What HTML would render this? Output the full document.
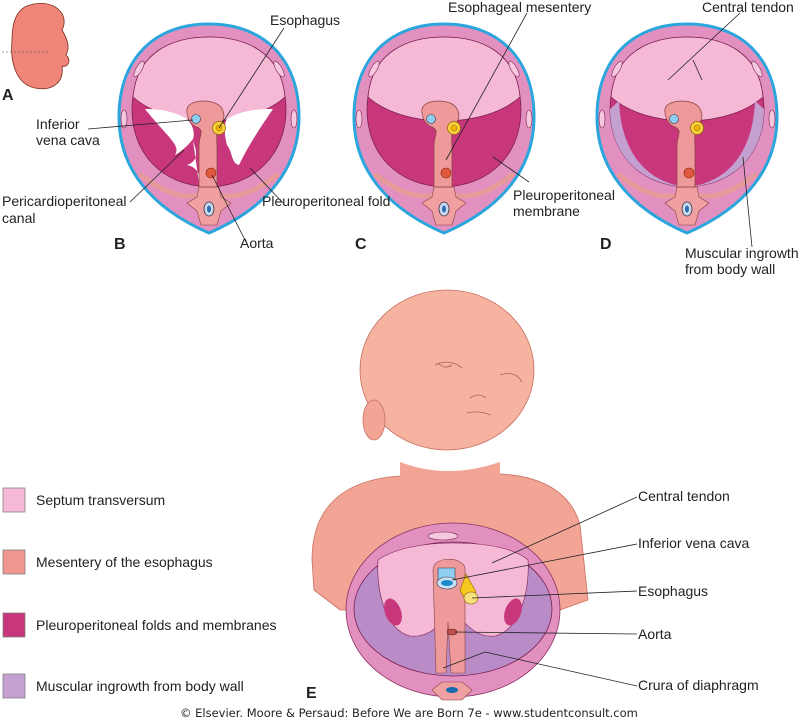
<!DOCTYPE html>
<html><head><meta charset="utf-8"><style>
html,body{margin:0;padding:0;background:#fff;}
svg{display:block;font-family:"Liberation Sans",Arial,sans-serif;}
text{font-size:14px;fill:#222;}
.b{font-weight:bold;font-size:16px;}
</style></head><body>
<svg width="800" height="720" viewBox="0 0 800 720">
<defs>
<g id="sec">
  <path d="M0,-107 C55,-107 90,-72 90,-14 C90,36 60,76 0,102 C-60,76 -90,36 -90,-14 C-90,-72 -55,-107 0,-107Z" fill="#e290c0" stroke="#2aa6dd" stroke-width="3"/>
  <path d="M0,-94 C47,-94 77,-62 77,-22 C77,22 48,54 0,56 C-48,54 -77,22 -77,-22 C-77,-62 -47,-94 0,-94Z" fill="#c8377c" stroke="#7a2050" stroke-width="0.8"/>
  <path d="M-76,-34 C-72,-80 -35,-94 0,-94 C35,-94 72,-80 76,-34 C40,-2 -40,-2 -76,-34Z" fill="#f5b8d5" stroke="#7a2050" stroke-width="0.8"/>
  <ellipse cx="-85" cy="-12" rx="3" ry="9" fill="#f5c8dd" stroke="#7a2050" stroke-width="0.6"/>
  <ellipse cx="85" cy="-12" rx="3" ry="9" fill="#f5c8dd" stroke="#7a2050" stroke-width="0.6"/>
  <ellipse cx="-70" cy="-62" rx="3" ry="9" fill="#f5c8dd" stroke="#7a2050" stroke-width="0.6" transform="rotate(30 -70 -62)"/>
  <ellipse cx="70" cy="-62" rx="3" ry="9" fill="#f5c8dd" stroke="#7a2050" stroke-width="0.6" transform="rotate(-30 70 -62)"/>
  <path d="M-68,44 Q-35,70 -10,64 L10,64 Q35,70 68,44" fill="none" stroke="#e89a9a" stroke-width="5" stroke-linecap="round"/>
  <path d="M-10,56 L10,56 L12,66 L22,72 L12,80 L8,94 L-8,94 L-12,80 L-22,72 L-12,66Z" fill="#f0a0a0" stroke="#8a4040" stroke-width="0.6"/>
  <ellipse cx="0" cy="78" rx="5" ry="7" fill="#ccd8ee" stroke="#334" stroke-width="0.8"/>
  <ellipse cx="0" cy="78" rx="2" ry="3.5" fill="#2a6fb0"/>
</g>
<g id="mes">
  <path d="M-22,-18 C-24,-30 -6,-32 6,-28 C14,-25 18,-15 12,-8 C6,-2 8,8 8,18 L8,56 L-10,56 L-10,15 C-10,4 -4,0 -12,-4 C-18,-6 -21,-12 -22,-18Z" fill="#ef9a9a" stroke="#8a4040" stroke-width="0.7"/>
  <circle cx="-13" cy="-12" r="4.5" fill="#8ecff0" stroke="#335" stroke-width="0.6"/>
  <circle cx="10" cy="-3" r="6.5" fill="#f7d040" stroke="#8a6000" stroke-width="0.7"/>
  <circle cx="10" cy="-3" r="3" fill="#f0b800" stroke="#8a6000" stroke-width="0.5"/>
  <circle cx="2" cy="42" r="5" fill="#e05a40" stroke="#8a2000" stroke-width="0.6"/>
</g>
</defs>

<!-- A -->
<path d="M30,5 C55,-2 70,15 62,30 C68,40 70,48 66,55 C72,60 68,68 62,66 C64,80 55,92 35,88 C15,84 10,60 12,40 C12,20 18,8 30,5Z" fill="#f0857a" stroke="#7a3020" stroke-width="0.8"/>
<line x1="2" y1="52" x2="50" y2="52" stroke="#444" stroke-width="0.6" stroke-dasharray="2,2"/>
<text x="2" y="100" class="b">A</text>

<!-- B -->
<g transform="translate(209,131)">
  <use href="#sec"/>
  <path d="M-64,-22 C-45,-22 -32,-18 -22,-12 C-16,-6 -14,2 -16,8 C-22,16 -30,22 -34,24 C-28,14 -40,8 -64,-22Z" fill="#fff"/>
  <path d="M64,-22 C45,-22 32,-20 18,-12 C14,-5 16,6 18,14 C24,22 22,32 30,34 C36,22 42,10 64,-22Z" fill="#fff"/>
  <path d="M-16,10 C-12,20 -10,30 -22,34 C-12,36 -8,44 -10,52Z" fill="#fff"/>
  <use href="#mes"/>
</g>
<!-- C -->
<g transform="translate(444,131)">
  <use href="#sec"/>
  <use href="#mes"/>
</g>
<!-- D -->
<g transform="translate(687,131)">
  <use href="#sec"/>
  <path d="M-77,-22 C-77,22 -48,54 0,56 C-40,52 -66,22 -68,-30Z" fill="#c4a0d0"/>
  <path d="M77,-22 C77,22 48,54 0,56 C40,52 66,22 68,-30Z" fill="#c4a0d0"/>
  <use href="#mes"/>
</g>

<g stroke="#222" stroke-width="0.8" fill="none">
<line x1="284" y1="28" x2="219" y2="128"/>
<line x1="88" y1="129" x2="193" y2="120"/>
<line x1="130" y1="202" x2="184" y2="150"/>
<line x1="283" y1="203" x2="250" y2="168"/>
<line x1="246" y1="242" x2="212" y2="175"/>
<line x1="527" y1="13" x2="446" y2="160"/>
<line x1="529" y1="182" x2="493" y2="157"/>
<line x1="740" y1="13" x2="668" y2="80"/>
<line x1="693" y1="60" x2="702" y2="80"/>
<line x1="752" y1="247" x2="743" y2="157"/>
</g>
<text x="270" y="25">Esophagus</text>
<text x="36" y="129">Inferior</text>
<text x="36" y="145">vena cava</text>
<text x="2" y="206">Pericardioperitoneal</text>
<text x="2" y="223">canal</text>
<text x="262" y="206">Pleuroperitoneal fold</text>
<text x="240" y="248">Aorta</text>
<text x="114" y="249" class="b">B</text>
<text x="448" y="12">Esophageal mesentery</text>
<text x="513" y="200">Pleuroperitoneal</text>
<text x="513" y="216">membrane</text>
<text x="355" y="249" class="b">C</text>
<text x="702" y="12">Central tendon</text>
<text x="600" y="249" class="b">D</text>
<text x="685" y="258">Muscular ingrowth</text>
<text x="685" y="274">from body wall</text>

<!-- E baby -->
<path d="M312,560 C312,510 340,480 400,476 L500,474 C545,476 572,495 580,525 L588,600 L560,610 L340,610 L314,590Z" fill="#f3a595" stroke="#c87060" stroke-width="0.8"/>
<ellipse cx="447" cy="370" rx="87" ry="80" fill="#f6b3a0" stroke="#c87060" stroke-width="0.8"/>
<path d="M400,462 Q447,480 500,462 L500,478 L400,478Z" fill="#f3a595"/>
<path d="M435,365 C445,360 455,362 462,368" fill="none" stroke="#b06050" stroke-width="0.8"/>
<path d="M438,363 Q445,370 452,365" fill="none" stroke="#b06050" stroke-width="0.8"/>
<path d="M500,375 Q515,370 522,382" fill="none" stroke="#b06050" stroke-width="0.8"/>
<path d="M467,413 Q480,410 490,415" fill="none" stroke="#b06050" stroke-width="0.8"/>
<path d="M470,398 Q478,392 486,398" fill="none" stroke="#b06050" stroke-width="0.8"/>
<ellipse cx="374" cy="420" rx="11" ry="20" fill="#f3a595" stroke="#c87060" stroke-width="0.8"/>
<!-- diaphragm -->
<ellipse cx="453" cy="610" rx="107" ry="87" fill="#e290c0" stroke="#8a3060" stroke-width="0.8"/>
<ellipse cx="453" cy="609" rx="99" ry="67" fill="#b98cc8" stroke="#7a2050" stroke-width="0.8"/>
<path d="M378,560 C395,548 425,543 453,543 C485,543 515,548 528,560 C530,590 520,630 495,636 C478,638 470,628 453,612 C436,628 428,638 410,636 C385,630 376,590 378,560Z" fill="#f5b8d5" stroke="#7a2050" stroke-width="0.6"/>
<ellipse cx="393" cy="612" rx="8" ry="14" fill="#c8377c" transform="rotate(-20 393 612)"/>
<ellipse cx="513" cy="612" rx="8" ry="14" fill="#c8377c" transform="rotate(20 513 612)"/>
<ellipse cx="443" cy="536" rx="15" ry="4" fill="#f5c8dd" stroke="#7a2050" stroke-width="0.6"/>
<path d="M433,570 C433,556 462,556 465,568 L465,673 L451,673 L448,622 L446,673 L436,673Z" fill="#ef9a9a" stroke="#8a4040" stroke-width="0.6"/>
<path d="M438,568 L455,568 L455,582 L438,582Z" fill="#8ecff0" stroke="#335" stroke-width="0.6"/>
<ellipse cx="447" cy="583" rx="10" ry="6" fill="#cce0f0" stroke="#335" stroke-width="0.6"/>
<ellipse cx="447" cy="583" rx="6" ry="3" fill="#1a8ad0"/>
<path d="M460,590 L466,574 L476,592 L466,601Z" fill="#f7c820" stroke="#8a6000" stroke-width="0.6"/>
<ellipse cx="471" cy="598" rx="7" ry="6" fill="#f7e080" stroke="#8a6000" stroke-width="0.6"/>
<ellipse cx="452" cy="632" rx="5" ry="3" fill="#c05050" stroke="#602020" stroke-width="0.6"/>
<path d="M442,682 L462,682 L472,690 L462,700 L442,700 L432,690Z" fill="#f0a0a0" stroke="#8a4040" stroke-width="0.6"/>
<ellipse cx="452" cy="690" rx="6" ry="3" fill="#1a6ab0"/>
<text x="306" y="698" class="b">E</text>

<g stroke="#222" stroke-width="0.8" fill="none">
<line x1="637" y1="497" x2="492" y2="563"/>
<line x1="637" y1="544" x2="452" y2="580"/>
<line x1="637" y1="591" x2="472" y2="598"/>
<line x1="637" y1="634" x2="455" y2="632"/>
<line x1="637" y1="686" x2="485" y2="652"/>
<line x1="485" y1="652" x2="443" y2="668"/>
</g>
<text x="638" y="501">Central tendon</text>
<text x="638" y="548">Inferior vena cava</text>
<text x="638" y="596">Esophagus</text>
<text x="638" y="639">Aorta</text>
<text x="638" y="690">Crura of diaphragm</text>

<!-- legend -->
<rect x="3" y="488" width="22" height="24" fill="#f5b8d5" stroke="#777" stroke-width="0.7"/>
<rect x="3" y="550" width="22" height="24" fill="#f0958f" stroke="#777" stroke-width="0.7"/>
<rect x="3" y="613" width="22" height="24" fill="#c8377c" stroke="#777" stroke-width="0.7"/>
<rect x="3" y="674" width="22" height="24" fill="#c4a0d0" stroke="#777" stroke-width="0.7"/>
<text x="36" y="505">Septum transversum</text>
<text x="36" y="567">Mesentery of the esophagus</text>
<text x="36" y="630">Pleuroperitoneal folds and membranes</text>
<text x="36" y="691">Muscular ingrowth from body wall</text>

<text x="180" y="717" style="font-size:11.5px;font-family:'DejaVu Sans',sans-serif">© Elsevier. Moore &amp; Persaud: Before We are Born 7e - www.studentconsult.com</text>
</svg>
</body></html>
